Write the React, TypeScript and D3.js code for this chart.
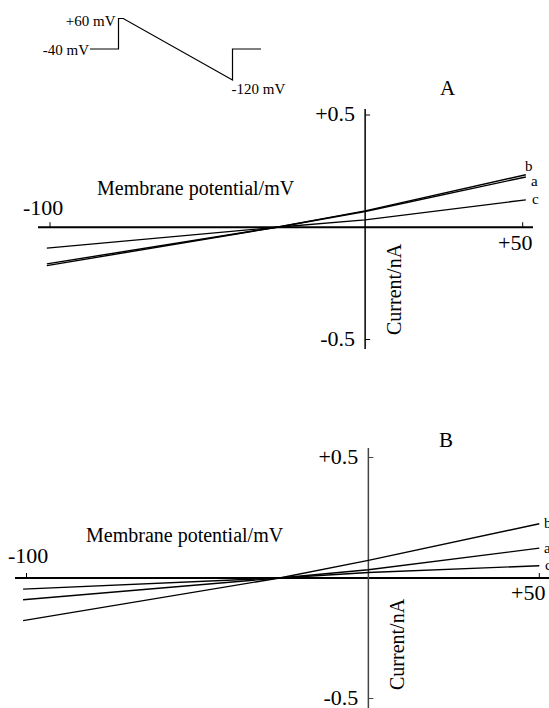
import React from "react";
import * as d3 from "d3";

// Stimulus protocol (schematic): time units vs membrane potential (mV)
const protocolTime = [0, 30, 30, 35, 150, 150, 180];
const protocolVoltage = [-40, -40, 60, 60, -120, -40, -40];

// Panel A I-V curves (mV, nA)
const panelAVoltage = [-101, -28, 0, 51];
const panelA_a = [-0.163, 0, 0.07, 0.224];
const panelA_b = [-0.171, 0, 0.073, 0.234];
const panelA_c = [-0.093, 0, 0.033, 0.122];

// Panel B I-V curves (mV, nA)
const panelBVoltage = [-101, -26, 0, 50];
const panelB_a = [-0.09, 0, 0.034, 0.124];
const panelB_b = [-0.177, 0, 0.073, 0.225];
const panelB_c = [-0.046, 0, 0.023, 0.051];

const xTicks = [-100, 50];
const xTickLabels = ["-100", "+50"];
const yTicks = [0.5, -0.5];
const yTickLabels = ["+0.5", "-0.5"];
const seriesNames = ["a", "b", "c"];

const FONT = "'Liberation Serif', 'Times New Roman', serif";

type PanelProps = {
  title: string;
  voltages: number[];
  series: number[][];
  xRange: [number, number];
  yRange: [number, number];
  xAxisExtent: [number, number];
  yAxisExtent: [number, number];
  yAxisColor: string;
  titlePos: [number, number];
  memLabel: [number, number];
  xLabelPos: { neg: [number, number]; pos: [number, number] };
  curLabel: [number, number];
  seriesLabelPos: [number, number][];
};

function Panel(p: PanelProps) {
  const x = d3.scaleLinear().domain([-100, 50]).range(p.xRange);
  const y = d3.scaleLinear().domain([-0.5, 0.5]).range(p.yRange);
  const line = d3
    .line<[number, number]>()
    .x((d) => x(d[0]))
    .y((d) => y(d[1]));
  const x0 = x(0);
  const y0 = y(0);
  return (
    <g>
      {/* x axis */}
      <line x1={p.xAxisExtent[0]} x2={p.xAxisExtent[1]} y1={y0} y2={y0} stroke="#000" strokeWidth={2} />
      {xTicks.map((t) => (
        <line key={t} x1={x(t)} x2={x(t)} y1={y0} y2={y0 - 5} stroke="#000" strokeWidth={1} />
      ))}
      {/* y axis */}
      <line x1={x0} x2={x0} y1={p.yAxisExtent[0]} y2={p.yAxisExtent[1]} stroke={p.yAxisColor} strokeWidth={1.5} />
      {yTicks.map((t) => (
        <line key={t} x1={x0} x2={x0 + 5} y1={y(t)} y2={y(t)} stroke={p.yAxisColor} strokeWidth={1} />
      ))}
      {/* tick labels */}
      <text x={p.xLabelPos.neg[0]} y={p.xLabelPos.neg[1]} fontFamily={FONT} fontSize={22}>
        {xTickLabels[0]}
      </text>
      <text x={p.xLabelPos.pos[0]} y={p.xLabelPos.pos[1]} fontFamily={FONT} fontSize={22}>
        {xTickLabels[1]}
      </text>
      {yTicks.map((t, i) => (
        <text key={t} x={x0 - 10} y={y(t) + 6} textAnchor="end" fontFamily={FONT} fontSize={22}>
          {yTickLabels[i]}
        </text>
      ))}
      {/* axis titles */}
      <text x={p.memLabel[0]} y={p.memLabel[1]} fontFamily={FONT} fontSize={20}>
        Membrane potential/mV
      </text>
      <text
        transform={`translate(${p.curLabel[0]},${p.curLabel[1]}) rotate(-90)`}
        fontFamily={FONT}
        fontSize={20}
      >
        Current/nA
      </text>
      <text x={p.titlePos[0]} y={p.titlePos[1]} fontFamily={FONT} fontSize={21}>
        {p.title}
      </text>
      {/* curves */}
      {p.series.map((s, i) => (
        <path
          key={i}
          d={line(p.voltages.map((v, j) => [v, s[j]] as [number, number])) || ""}
          fill="none"
          stroke="#000"
          strokeWidth={1.4}
        />
      ))}
      {seriesNames.map((n, i) => (
        <text key={n} x={p.seriesLabelPos[i][0]} y={p.seriesLabelPos[i][1]} fontFamily={FONT} fontSize={15}>
          {n}
        </text>
      ))}
    </g>
  );
}

function Protocol() {
  const x = d3.scaleLinear().domain([0, 180]).range([90, 261]);
  const y = d3.scaleLinear().domain([-120, -40, 60]).range([80, 49, 18.5]);
  const pts = protocolTime.map((t, i) => [t, protocolVoltage[i]] as [number, number]);
  const line = d3
    .line<[number, number]>()
    .x((d) => x(d[0]))
    .y((d) => y(d[1]));
  return (
    <g>
      <path d={line(pts) || ""} fill="none" stroke="#000" strokeWidth={1.2} />
      <text x={x(30) - 3} y={y(60) + 7} textAnchor="end" fontFamily={FONT} fontSize={15}>
        +60 mV
      </text>
      <text x={x(0) - 1} y={y(-40) + 6} textAnchor="end" fontFamily={FONT} fontSize={15}>
        -40 mV
      </text>
      <text x={x(150) - 1} y={y(-120) + 14} fontFamily={FONT} fontSize={15}>
        -120 mV
      </text>
    </g>
  );
}

export default function App() {
  return (
    <svg
      width={549}
      height={708}
      style={{ position: "absolute", left: 0, top: 0, background: "#fff" }}
    >
      <rect width={549} height={708} fill="#fff" />
      <Protocol />
      <Panel
        title="A"
        voltages={panelAVoltage}
        series={[panelA_a, panelA_b, panelA_c]}
        xRange={[50, 522.7]}
        yRange={[339.5, 115]}
        xAxisExtent={[38, 533]}
        yAxisExtent={[109, 349]}
        yAxisColor="#000"
        titlePos={[440, 95]}
        memLabel={[97, 195]}
        xLabelPos={{ neg: [23, 215], pos: [498, 250] }}
        curLabel={[401, 335]}
        seriesLabelPos={[
          [531, 186],
          [525, 171],
          [532, 204],
        ]}
      />
      <Panel
        title="B"
        voltages={panelBVoltage}
        series={[panelB_a, panelB_b, panelB_c]}
        xRange={[26.5, 539.3]}
        yRange={[698.5, 457.5]}
        xAxisExtent={[15, 549]}
        yAxisExtent={[448, 708]}
        yAxisColor="#444"
        titlePos={[439, 447]}
        memLabel={[86, 542]}
        xLabelPos={{ neg: [8, 563], pos: [511, 600] }}
        curLabel={[404, 690]}
        seriesLabelPos={[
          [544, 553],
          [544, 528],
          [545, 570],
        ]}
      />
    </svg>
  );
}
